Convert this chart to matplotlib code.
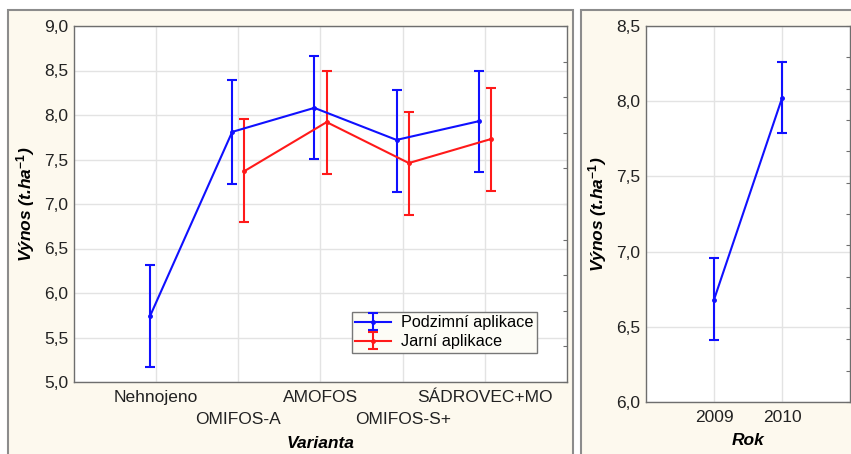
import numpy as np
import matplotlib.pyplot as plt
from matplotlib.patches import Rectangle
from matplotlib.ticker import FuncFormatter, MultipleLocator

plt.rcParams['font.family'] = ['Liberation Sans', 'DejaVu Sans']
plt.rcParams['mathtext.fontset'] = 'custom'
plt.rcParams['mathtext.it'] = 'Liberation Sans:italic:bold'
plt.rcParams['mathtext.rm'] = 'Liberation Sans:bold'
plt.rcParams['mathtext.bf'] = 'Liberation Sans:bold'

# left panel - yield by variant
varianty = ['Nehnojeno', 'OMIFOS-A', 'AMOFOS', 'OMIFOS-S+', 'SÁDROVEC+MO']
podzim_mean = [5.74, 7.81, 8.08, 7.72, 7.93]
podzim_low = [5.17, 7.23, 7.51, 7.13, 7.36]
podzim_high = [6.31, 8.39, 8.66, 8.28, 8.50]
jaro_mean = [7.37, 7.92, 7.46, 7.73]
jaro_low = [6.80, 7.34, 6.88, 7.15]
jaro_high = [7.95, 8.49, 8.03, 8.30]

# right panel - yield by year
roky = ['2009', '2010']
rok_mean = [6.68, 8.02]
rok_low = [6.41, 7.79]
rok_high = [6.955, 8.26]

BLUE = '#1010ff'
RED = '#ff1a1a'
FRAME = '#fdf9ee'

comma = FuncFormatter(lambda v, p: ('%.1f' % v).replace('.', ','))

fig = plt.figure(figsize=(8.51, 4.54), dpi=100)
W, H = 851.0, 454.0

# cream panel frames (behind the axes)
for x0, w in [(8, 565), (581, 300)]:
    r = Rectangle((x0 / W, -0.05), w / W, 1 - 10 / H + 0.05, transform=fig.transFigure,
                  facecolor=FRAME, edgecolor='#8c8c8c', lw=1.5, zorder=-10)
    fig.patches.append(r)

ax1 = fig.add_axes([74 / W, 1 - 382 / H, 493 / W, 356 / H])
ax2 = fig.add_axes([646 / W, 1 - 402 / H, 204 / W, 376 / H])

def style(ax):
    ax.set_facecolor('white')
    ax.grid(True, color='#e3e3e3', lw=1)
    ax.set_axisbelow(True)
    for s in ax.spines.values():
        s.set_color('#6e6e6e')
        s.set_linewidth(1.0)
    ax.tick_params(axis='both', length=0, labelsize=12.5, colors='#222222')
    ax.yaxis.set_major_formatter(comma)
    ax.tick_params(axis='y', pad=4)

lab = dict(fontsize=12.5, fontweight='bold', fontstyle='italic')
ylab = 'Výnos (t.ha$^{-1}$)'

# --- left
style(ax1)
x = np.arange(1, len(varianty) + 1)
pm = np.array(podzim_mean)
ax1.errorbar(x - 0.075, pm, yerr=[pm - np.array(podzim_low), np.array(podzim_high) - pm],
             color=BLUE, lw=1.5, capsize=3.5, capthick=1.5, marker='o', ms=2.5,
             label='Podzimní aplikace', zorder=3)
jm = np.array(jaro_mean)
ax1.errorbar(x[1:] + 0.075, jm, yerr=[jm - np.array(jaro_low), np.array(jaro_high) - jm],
             color=RED, lw=1.5, capsize=3.5, capthick=1.5, marker='o', ms=2.5,
             label='Jarní aplikace', zorder=3)
ax1.set_xlim(0, 6)
ax1.set_ylim(5, 9)
ax1.yaxis.set_major_locator(MultipleLocator(0.5))
ax1.set_xticks(x)
ax1.set_xticklabels(varianty)
for i, t in enumerate(ax1.get_xticklabels()):
    if i % 2 == 1:
        t.set_y(-0.06)
ax1.tick_params(axis='x', pad=6)
ax1.set_xlabel('Varianta', **lab)
ax1.xaxis.set_label_coords(0.5, -0.153)
ax1.set_ylabel(ylab, labelpad=5, **lab)
# small inward ticks on right spine
sec = ax1.secondary_yaxis('right')
sec.set_yticks(np.linspace(5, 9, 11))
sec.tick_params(direction='in', length=3, labelright=False, color='#6e6e6e')
sec.spines['right'].set_visible(False)
leg = ax1.legend(loc='lower right', bbox_to_anchor=(0.955, 0.06), fontsize=11.7, frameon=True,
                 fancybox=False, edgecolor='#777777', facecolor='#fdfcf6', framealpha=1,
                 handlelength=2.2, borderpad=0.2, labelspacing=0.25, handletextpad=0.6)
leg.get_frame().set_linewidth(1.0)

# --- right
style(ax2)
xr = np.arange(1, len(roky) + 1)
rm = np.array(rok_mean)
ax2.errorbar(xr, rm, yerr=[rm - np.array(rok_low), np.array(rok_high) - rm],
             color=BLUE, lw=1.5, capsize=3.5, capthick=1.5, marker='o', ms=2.5, zorder=3)
ax2.set_xlim(0, 3)
ax2.set_ylim(6, 8.5)
ax2.yaxis.set_major_locator(MultipleLocator(0.5))
ax2.set_xticks(xr)
ax2.set_xticklabels(roky)
ax2.tick_params(axis='x', pad=6)
ax2.set_xlabel('Rok', **lab)
ax2.xaxis.set_label_coords(0.5, -0.082)
ax2.set_ylabel(ylab, labelpad=5, **lab)
sec2 = ax2.secondary_yaxis('right')
sec2.set_yticks(np.linspace(6, 8.5, 13))
sec2.tick_params(direction='in', length=3, labelright=False, color='#6e6e6e')
sec2.spines['right'].set_visible(False)

fig.savefig('out.png', dpi=100)
